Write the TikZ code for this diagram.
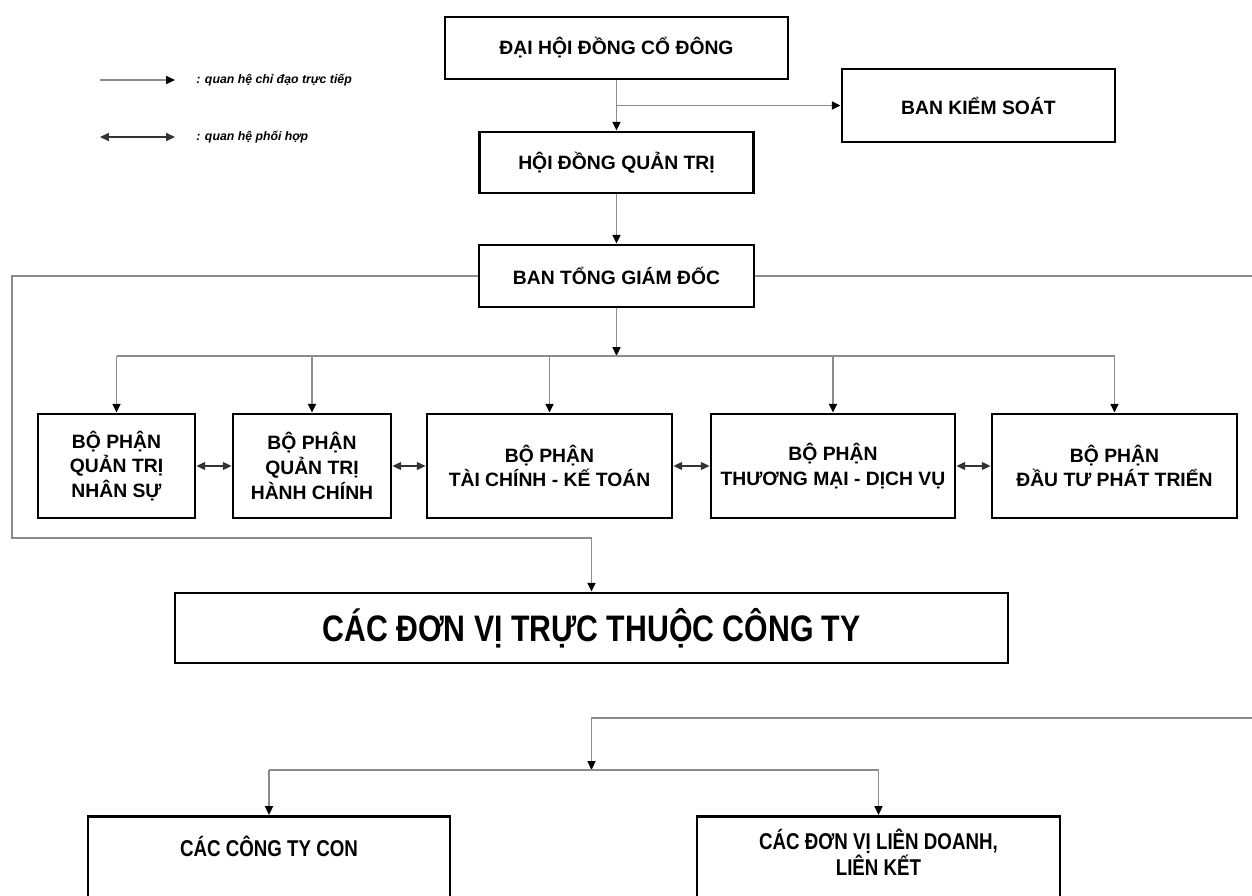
\documentclass[tikz,border=0pt]{standalone}
\usepackage{fontspec}
\setmainfont{Liberation Sans}
\newfontfamily\narrowfont[FakeStretch=0.82]{Liberation Sans}
\usetikzlibrary{arrows.meta}

\begin{document}
\begin{tikzpicture}[x=0.02cm,y=-0.02cm,
  box/.style={draw,line width=1.6pt,fill=white,align=center,
    font=\fontsize{11}{14}\selectfont\bfseries},
  bigbox/.style={box,font=\narrowfont\bfseries\fontsize{21}{24}\selectfont},
  lowbox/.style={box,anchor=north,inner ysep=11pt,text depth=2cm,
    font=\narrowfont\bfseries\fontsize{13}{13.6}\selectfont},
  legtext/.style={anchor=west,inner sep=0pt,font=\fontsize{7}{8}\selectfont\bfseries\itshape},
  conn/.style={draw=black!45,line width=1pt},
  arrowto/.style={-{Triangle[length=5pt,width=4.5pt,color=black]}},
  coop/.style={draw=black!80,line width=0.8pt,
    {Triangle[length=5pt,width=4.5pt]}-{Triangle[length=5pt,width=4.5pt]}}]
\useasboundingbox (0,0) rectangle (1252,896);
\clip (0,0) rectangle (1252,896);

% chu thich
\coordinate (la1) at (100,80);
\coordinate (lb1) at (175,80);
\coordinate (la2) at (100,137);
\coordinate (lb2) at (175,137);
\draw[conn,arrowto] (la1) -- (lb1);
\draw[coop] (la2) -- (lb2);
\node[legtext] (leg1) at (196,80) {: quan hệ chỉ đạo trực tiếp};
\node[legtext] (leg2) at (196,137) {: quan hệ phối hợp};

% cap tren
\node[box,minimum width=6.86cm,minimum height=1.24cm] (dhd) at (616.5,48) {ĐẠI HỘI ĐỒNG CỔ ĐÔNG};
\node[box,minimum width=5.46cm,minimum height=1.46cm] (bks) at (978.5,105.5) {BAN KIỂM SOÁT};
\node[box,minimum width=5.48cm,minimum height=1.22cm] (hdqt) at (616.5,162.5) {HỘI ĐỒNG QUẢN TRỊ};
\node[box,minimum width=5.5cm,minimum height=1.24cm] (tgd) at (616.5,276) {BAN TỔNG GIÁM ĐỐC};

% cac bo phan
\foreach \n/\x/\w/\txt in {ns/116.5/3.14cm/{BỘ PHẬN\\QUẢN TRỊ\\NHÂN SỰ},
    hc/312/3.16cm/{BỘ PHẬN\\QUẢN TRỊ\\HÀNH CHÍNH},
    tc/549.5/4.9cm/{BỘ PHẬN\\TÀI CHÍNH - KẾ TOÁN},
    tm/833/4.88cm/{BỘ PHẬN\\THƯƠNG MẠI - DỊCH VỤ},
    dt/1114.5/4.9cm/{BỘ PHẬN\\ĐẦU TƯ PHÁT TRIỂN}} {
  \node[box,minimum width=\w,minimum height=2.08cm] (\n) at (\x,466) {\txt};
}

\node[bigbox,minimum width=16.66cm,minimum height=1.4cm] (dv) at (591.5,628) {CÁC ĐƠN VỊ TRỰC THUỘC CÔNG TY};
\node[lowbox,minimum width=7.24cm] (con) at (269,815) {CÁC CÔNG TY CON};
\node[lowbox,minimum width=7.26cm,inner ysep=7pt] (lk) at (878.5,815) {CÁC ĐƠN VỊ LIÊN DOANH,\\LIÊN KẾT};

% quan he chi dao
\coordinate (j1) at (dhd.south |- bks.west);
\draw[conn,arrowto] (dhd.south) -- (hdqt.north);
\draw[conn,arrowto] (j1) -- (bks.west);
\draw[conn,arrowto] (hdqt.south) -- (tgd.north);
\coordinate (bus) at (616.5,356);
\draw[conn,arrowto] (tgd.south) -- (bus);
\draw[conn] (ns.north |- bus) -- (dt.north |- bus);
\foreach \n in {ns,hc,tc,tm,dt}
  \draw[conn,arrowto] (\n.north |- bus) -- (\n.north);

% vong trai
\coordinate (lt) at (12,276);
\coordinate (lb) at (12,538);
\draw[conn,arrowto] (tgd.west) -- (lt) -- (lb) -| (dv.north);

% vong phai
\coordinate (rt) at (1258,276);
\coordinate (rb) at (1258,718);
\coordinate (j2) at (591.5,770);
\draw[conn] (tgd.east) -- (rt);
\draw[conn,arrowto] (rb) -| (j2);
\draw[conn] (con.north |- j2) -- (lk.north |- j2);
\draw[conn,arrowto] (con.north |- j2) -- (con.north);
\draw[conn,arrowto] (lk.north |- j2) -- (lk.north);

% quan he phoi hop
\draw[coop] (ns.east) -- (hc.west);
\draw[coop] (hc.east) -- (tc.west);
\draw[coop] (tc.east) -- (tm.west);
\draw[coop] (tm.east) -- (dt.west);
\end{tikzpicture}
\end{document}
